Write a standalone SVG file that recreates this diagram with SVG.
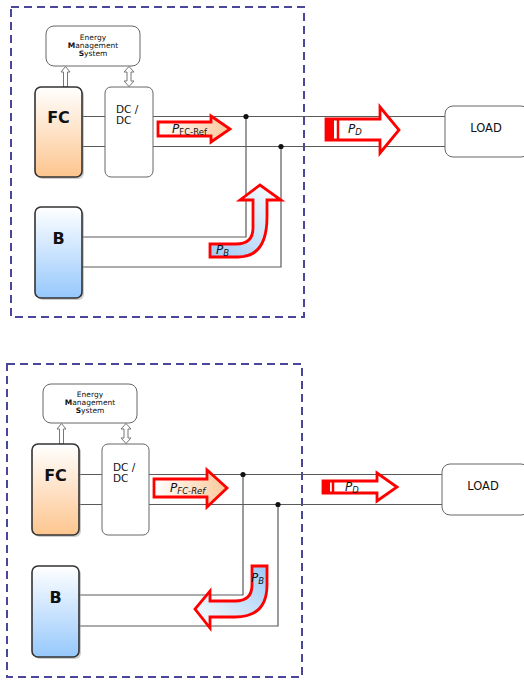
<svg xmlns="http://www.w3.org/2000/svg" width="524" height="681" viewBox="0 0 524 681">
<defs>
<linearGradient id="gFC" x1="0" y1="0" x2="0" y2="1"><stop offset="0" stop-color="#ffffff"/><stop offset="1" stop-color="#fdc58e"/></linearGradient>
<linearGradient id="gB" x1="0" y1="0" x2="0" y2="1"><stop offset="0" stop-color="#ffffff"/><stop offset="1" stop-color="#96c8fc"/></linearGradient>
<linearGradient id="gOr" x1="0" y1="0" x2="1" y2="0"><stop offset="0" stop-color="#ffffff"/><stop offset="1" stop-color="#fbc89a"/></linearGradient>
<linearGradient id="gBup" x1="0" y1="1" x2="1" y2="0"><stop offset="0" stop-color="#9ccaf6"/><stop offset="1" stop-color="#ffffff"/></linearGradient>
<linearGradient id="gBdn" x1="1" y1="0" x2="0" y2="1"><stop offset="0" stop-color="#9ccaf6"/><stop offset="1" stop-color="#ffffff"/></linearGradient>
</defs>
<style>
.frame{fill:none;stroke:#4a479a;stroke-width:2;stroke-dasharray:8 5}
.box{fill:#fff;stroke:#666;stroke-width:1}
.src{stroke:#333;stroke-width:1.6}
.shadow{fill:#999;opacity:.5}
.wire{fill:none;stroke:#5a5a5a;stroke-width:1.2}
.hollow{fill:#fff;stroke:#777;stroke-width:1}
.red{stroke:#f00;stroke-width:2.8;stroke-linejoin:miter}
.t{font-family:"DejaVu Sans",Verdana,sans-serif;fill:#111}
.ems{font-size:7.5px;text-anchor:middle}
.big{font-size:16px;font-weight:bold;text-anchor:middle}
.dc{font-size:10.5px}
.load{font-size:11.5px;text-anchor:middle}
.p{font-size:12px;font-style:italic}
.sub{font-size:8.5px}
</style>

<g id="frame-top"><rect class="frame" x="11" y="7" width="293" height="310"/></g>
<g id="frame-bottom"><rect class="frame" x="7" y="364" width="295" height="313"/></g>

<g id="connectors">
<path class="wire" d="M82,116.5H105 M82,146.5H105 M153,116.5H445 M153,146.5H445"/>
<path class="wire" d="M246,116.5V237H82 M281,146.5V267H82"/>
<circle cx="246" cy="116.5" r="2.6" fill="#111"/>
<circle cx="281" cy="146.5" r="2.6" fill="#111"/>
<path class="wire" d="M79,474.5H102 M79,504.5H102 M149,474.5H442 M149,504.5H442"/>
<path class="wire" d="M243,474.5V595H79 M278,504.5V626H79"/>
<circle cx="243" cy="474.5" r="2.6" fill="#111"/>
<circle cx="278" cy="504.5" r="2.6" fill="#111"/>
<path class="hollow" d="M63.5,87V72H61L65.5,66.5L70,72H67.5V87Z"/>
<path class="hollow" d="M127,72H124L129,66.5L134,72H131V81H134L129,86.5L124,81H127Z"/>
<path class="hollow" d="M59.5,444V429H57L61.5,423.5L66,429H63.5V444Z"/>
<path class="hollow" d="M124,429H121L126,423.5L131,429H128V438H131L126,443.5L121,438H124Z"/>
</g>

<g id="ems-top">
<rect class="box" x="46" y="26" width="94" height="40" rx="8"/>
<text class="t ems" x="93" y="39.5">Energy</text>
<text class="t ems" x="93" y="47.5"><tspan font-weight="bold">M</tspan>anagement</text>
<text class="t ems" x="93" y="55.5"><tspan font-weight="bold">S</tspan>ystem</text>
</g>
<g id="fc-top">
<rect class="shadow" x="37" y="89" width="47" height="90" rx="6"/>
<rect class="src" x="35" y="87" width="47" height="90" rx="6" fill="url(#gFC)"/>
<text class="t big" x="58.5" y="123">FC</text>
</g>
<g id="dcdc-top">
<rect class="box" x="105" y="87" width="48" height="90" rx="6"/>
<text class="t dc" x="116" y="113">DC /</text>
<text class="t dc" x="116" y="124">DC</text>
</g>
<g id="b-top">
<rect class="shadow" x="37" y="209" width="47" height="91" rx="6"/>
<rect class="src" x="35" y="207" width="47" height="91" rx="6" fill="url(#gB)"/>
<text class="t big" x="58.5" y="244">B</text>
</g>
<g id="load-top">
<rect class="box" x="445" y="106" width="84" height="51" rx="8"/>
<text class="t load" x="486" y="132">LOAD</text>
</g>
<g id="pfc-top">
<path class="red" fill="url(#gOr)" d="M158,122H211V116L230,129L211,142V136H158Z"/>
<text class="t p" x="172" y="133">P<tspan class="sub" font-style="normal" dy="2">FC-Ref</tspan></text>
</g>
<g id="pd-top">
<path class="red" fill="#fff" d="M326,119H380V107L399,130L380,153V140H326Z"/>
<rect x="326" y="119" width="8" height="21" fill="#f00"/>
<line x1="338" y1="119" x2="338" y2="140" stroke="#f00" stroke-width="2.5"/>
<text class="t p" x="348" y="133">P<tspan class="sub" dy="2">D</tspan></text>
</g>
<g id="pb-top">
<path class="red" fill="url(#gBup)" d="M210,244H236Q253,244 253,228V200H240L260,185L281,200H267V217Q267,257 238,257H210Z"/>
<text class="t p" x="216" y="254">P<tspan class="sub" dy="2">B</tspan></text>
</g>

<g id="ems-bottom">
<rect class="box" x="43" y="384" width="94" height="39" rx="8"/>
<text class="t ems" x="90" y="397">Energy</text>
<text class="t ems" x="90" y="405"><tspan font-weight="bold">M</tspan>anagement</text>
<text class="t ems" x="90" y="413"><tspan font-weight="bold">S</tspan>ystem</text>
</g>
<g id="fc-bottom">
<rect class="shadow" x="34" y="446" width="47" height="91" rx="6"/>
<rect class="src" x="32" y="444" width="47" height="91" rx="6" fill="url(#gFC)"/>
<text class="t big" x="55.5" y="481">FC</text>
</g>
<g id="dcdc-bottom">
<rect class="box" x="102" y="444" width="47" height="91" rx="6"/>
<text class="t dc" x="113" y="471">DC /</text>
<text class="t dc" x="113" y="482">DC</text>
</g>
<g id="b-bottom">
<rect class="shadow" x="34" y="568" width="47" height="91" rx="6"/>
<rect class="src" x="32" y="566" width="47" height="91" rx="6" fill="url(#gB)"/>
<text class="t big" x="55.5" y="603">B</text>
</g>
<g id="load-bottom">
<rect class="box" x="442" y="464" width="87" height="51" rx="8"/>
<text class="t load" x="483" y="490">LOAD</text>
</g>
<g id="pfc-bottom">
<path class="red" fill="url(#gOr)" d="M154,479H207V470L227,488L207,507V497H154Z"/>
<text class="t p" x="170" y="492">P<tspan class="sub" dy="2">FC-Ref</tspan></text>
</g>
<g id="pd-bottom">
<path class="red" fill="#fff" d="M323,481H377V473L397,487L377,501V493H323Z"/>
<rect x="323" y="481" width="7" height="12" fill="#f00"/>
<line x1="333" y1="481" x2="333" y2="493" stroke="#f00" stroke-width="2.5"/>
<text class="t p" x="345" y="491">P<tspan class="sub" dy="2">D</tspan></text>
</g>
<g id="pb-bottom">
<path class="red" fill="url(#gBdn)" d="M252,566H267V585Q267,617 235,617H210V628L195,609L210,591V601H235Q252,601 252,585Z"/>
<text class="t p" x="251" y="582">P<tspan class="sub" dy="2">B</tspan></text>
</g>
</svg>
